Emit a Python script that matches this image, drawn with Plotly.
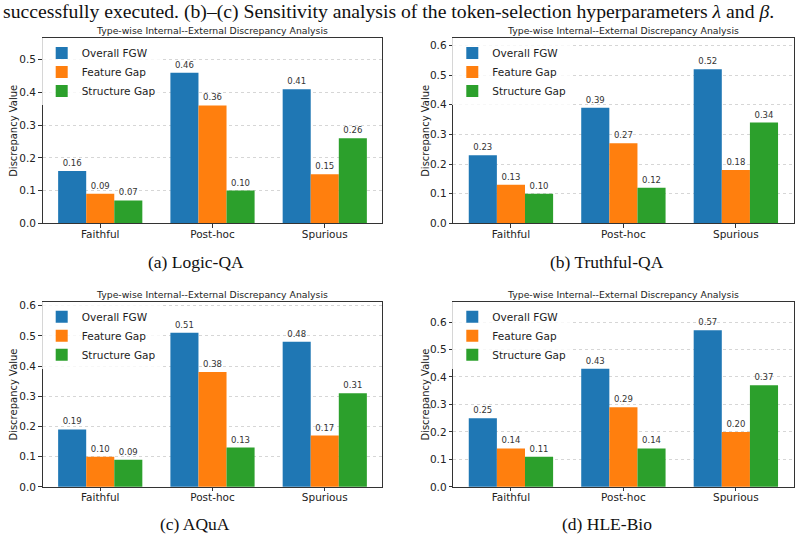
import plotly.graph_objects as go

W, H = 801, 545

categories = ["Faithful", "Post-hoc", "Spurious"]
series_names = ["Overall FGW", "Feature Gap", "Structure Gap"]
colors = ["#1f77b4", "#ff7f0e", "#2ca02c"]

logic_qa_fgw = [0.16, 0.46, 0.41]
logic_qa_feat = [0.09, 0.36, 0.15]
logic_qa_struct = [0.07, 0.10, 0.26]

truthful_qa_fgw = [0.23, 0.39, 0.52]
truthful_qa_feat = [0.13, 0.27, 0.18]
truthful_qa_struct = [0.10, 0.12, 0.34]

aqua_fgw = [0.19, 0.51, 0.48]
aqua_feat = [0.10, 0.38, 0.17]
aqua_struct = [0.09, 0.13, 0.31]

hle_bio_fgw = [0.25, 0.43, 0.57]
hle_bio_feat = [0.14, 0.29, 0.20]
hle_bio_struct = [0.11, 0.14, 0.37]

captions = ["(a) Logic-QA", "(b) Truthful-QA", "(c) AQuA", "(d) HLE-Bio"]
panel_title = "Type-wise Internal--External Discrepancy Analysis"
y_title = "Discrepancy Value"
top_text = "successfully executed. (b)–(c) Sensitivity analysis of the token-selection hyperparameters <i>λ</i> and <i>β</i>."

panels = [
    [logic_qa_fgw, logic_qa_feat, logic_qa_struct],
    [truthful_qa_fgw, truthful_qa_feat, truthful_qa_struct],
    [aqua_fgw, aqua_feat, aqua_struct],
    [hle_bio_fgw, hle_bio_feat, hle_bio_struct],
]
y_max = [0.565, 0.624, 0.611, 0.672]
y_tick_max = [0.5, 0.6, 0.6, 0.6]

# pixel boxes (left, top, right, bottom)
boxes = [
    (42.7, 36.0, 382.3, 224.0),
    (453.3, 36.0, 793.5, 224.0),
    (42.7, 304.3, 382.3, 492.0),
    (453.3, 304.3, 793.5, 492.0),
]
caption_pos = [(196, 263), (607, 263), (195, 530), (607, 530)]
ytitle_x = [14, 426, 14, 426]

FONT = "DejaVu Sans"
SERIF = "Liberation Serif, Times New Roman, serif"

fig = go.Figure()
layout = dict(
    width=W, height=H, margin=dict(l=0, r=0, t=0, b=0),
    paper_bgcolor="white", plot_bgcolor="white",
    barmode="group", bargap=0.25, bargroupgap=0.0,
    font=dict(family=FONT, color="#222"),
    annotations=[], showlegend=True,
)

def px(x):
    return x / W

def py(y):
    return 1 - y / H

for i, data in enumerate(panels):
    n = "" if i == 0 else str(i + 1)
    xa, ya = "x" + n, "y" + n
    leg = "legend" + n
    for j in range(3):
        fig.add_trace(go.Bar(
            x=categories, y=data[j], name=series_names[j],
            marker=dict(color=colors[j], line=dict(width=0)),
            text=[f"{v:.2f}" for v in data[j]], textposition="outside",
            textfont=dict(size=8.5, color="#333", family=FONT),
            cliponaxis=False, constraintext="none",
            xaxis=xa, yaxis=ya, legend=leg, offsetgroup=str(j),
        ))
    l, t, r, b = boxes[i]
    layout["xaxis" + n] = dict(
        domain=[px(l), px(r)], anchor=ya, range=[-0.5125, 2.5125],
        showline=True, mirror=True, linecolor="#333", linewidth=1.2,
        ticks="outside", ticklen=3.5, tickcolor="#333",
        tickfont=dict(size=10.5, color="#222"), showgrid=False,
        ticklabelstandoff=-3,
    )
    tv = [k / 10 for k in range(int(round(y_tick_max[i] * 10)) + 1)]
    layout["yaxis" + n] = dict(
        domain=[py(b), py(t)], anchor=xa, range=[0, y_max[i]],
        tickvals=tv, ticktext=[f"{v:.1f}" for v in tv],
        showline=True, mirror=True, linecolor="#333", linewidth=1.2,
        ticks="outside", ticklen=3.5, tickcolor="#333",
        tickfont=dict(size=10.5, color="#222"),
        showgrid=True, gridcolor="#d6d6d6", griddash="dot", gridwidth=0.8,
        zeroline=False,
    )
    layout[leg] = dict(
        x=px(l - 1), y=py(t), xanchor="left", yanchor="top",
        bgcolor="rgba(255,255,255,0.8)", borderwidth=0,
        font=dict(size=10.5, color="#222", family=FONT),
        itemwidth=30, tracegroupgap=0,
    )
    layout["annotations"].append(dict(
        x=px((l + r) / 2), y=py(t - 8.3), xref="paper", yref="paper",
        text=panel_title, showarrow=False, font=dict(size=9.3, color="#222"),
        xanchor="center", yanchor="middle",
    ))
    layout["annotations"].append(dict(
        x=px(ytitle_x[i]), y=py((t + b) / 2), xref="paper", yref="paper",
        text=y_title, showarrow=False, textangle=-90,
        font=dict(size=10, color="#222"), xanchor="center", yanchor="middle",
    ))
    cx, cy = caption_pos[i]
    layout["annotations"].append(dict(
        x=px(cx), y=py(cy), xref="paper", yref="paper",
        text=captions[i], showarrow=False,
        font=dict(size=17.5, color="#111", family=SERIF),
        xanchor="center", yanchor="middle",
    ))

layout["annotations"].append(dict(
    x=px(1), y=py(9), xref="paper", yref="paper", text=top_text,
    showarrow=False, font=dict(size=19.7, color="#111", family=SERIF),
    xanchor="left", yanchor="middle",
))

fig.update_layout(**layout)
fig.write_html("out.html")
